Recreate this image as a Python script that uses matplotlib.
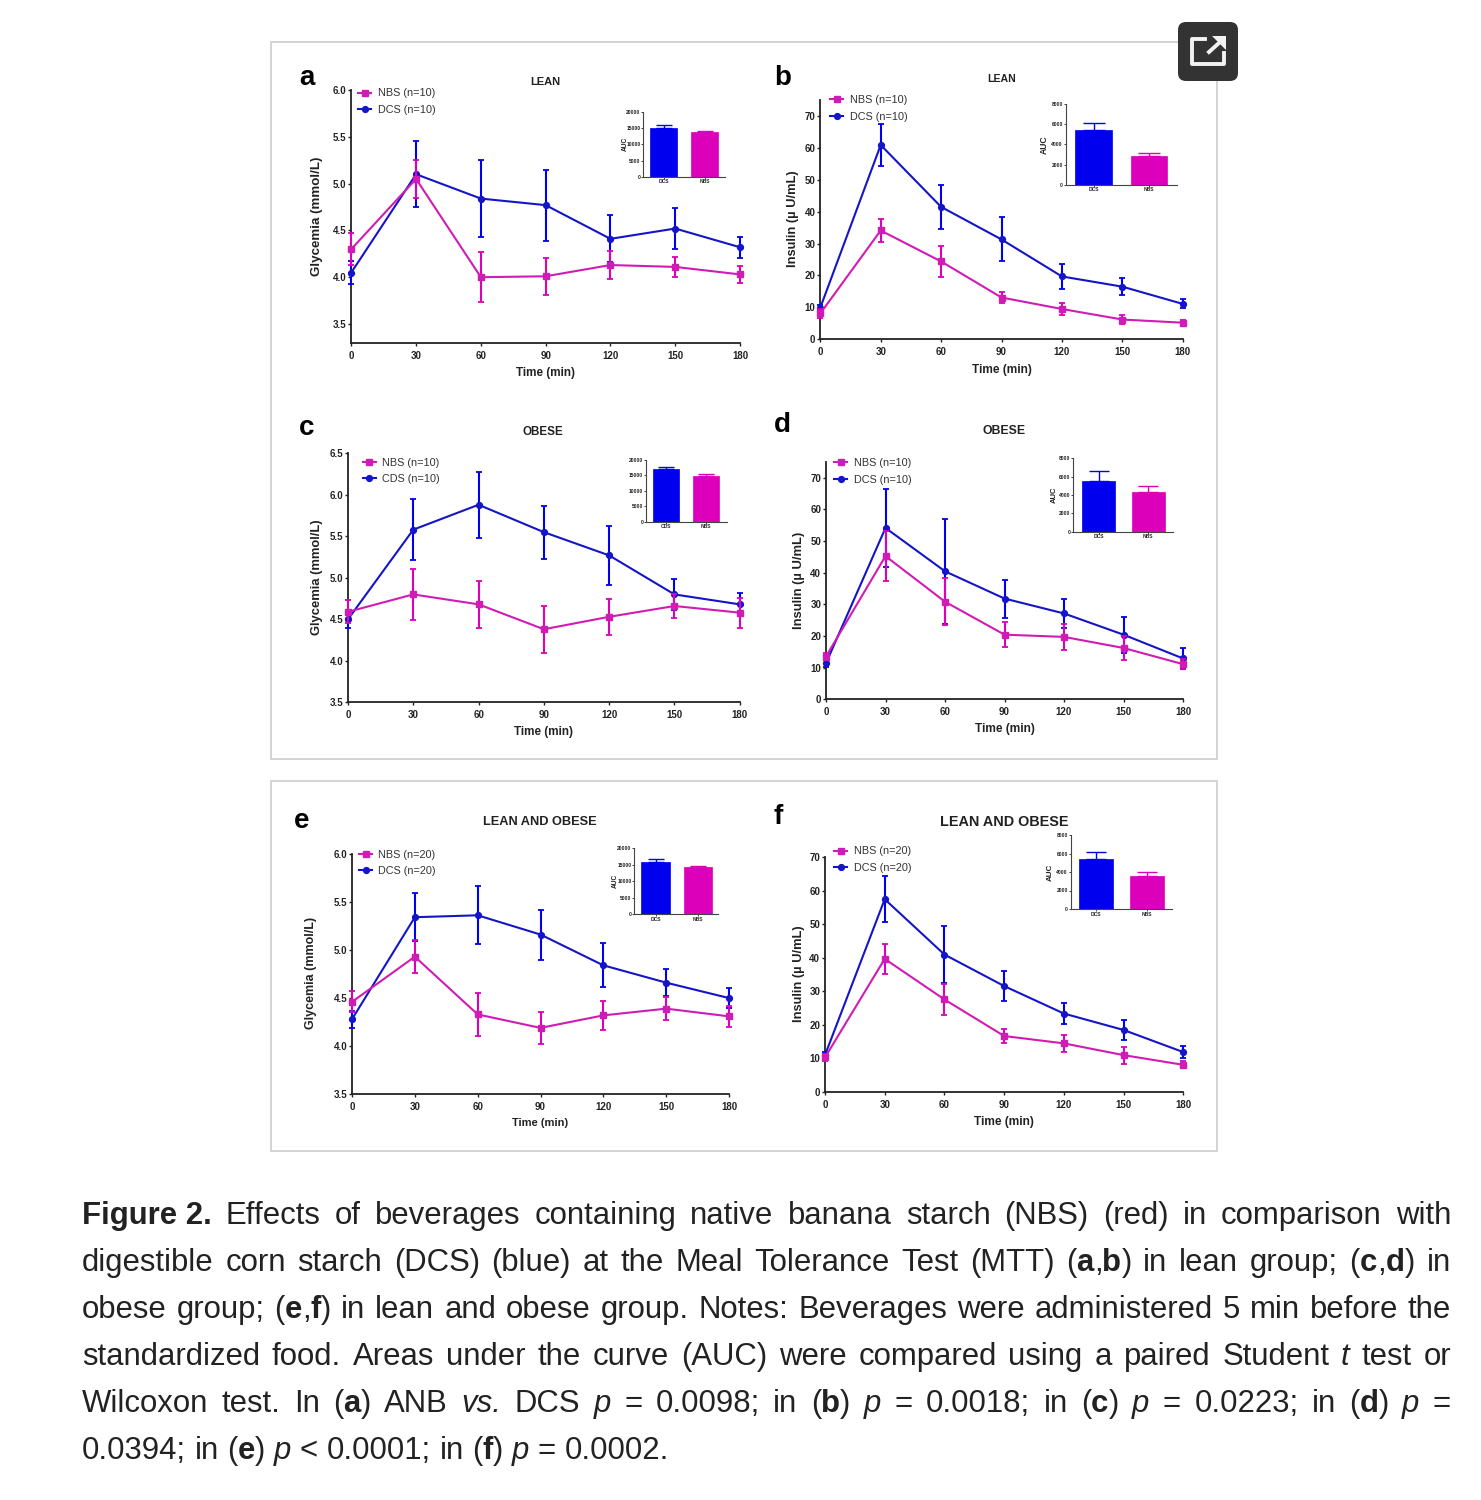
import re
import matplotlib
matplotlib.use('Agg')
import matplotlib.pyplot as plt
from matplotlib.lines import Line2D
from matplotlib.patches import FancyBboxPatch, Polygon, Rectangle
from matplotlib.transforms import Affine2D

W, H = 1481, 1500
PINK_LINE, BLUE_LINE = '#D01CB4', '#1414C8'
PINK_BAR, BLUE_BAR = '#DD00BB', '#0000EE'
INK = '#222222'

times = [0, 30, 60, 90, 120, 150, 180]

# glycemia / insulin means and error bars
a_nbs = [4.30, 5.05, 4.00, 4.01, 4.13, 4.11, 4.03]
a_nbs_err = [0.17, 0.20, 0.27, 0.20, 0.15, 0.11, 0.09]
a_dcs = [4.05, 5.10, 4.84, 4.77, 4.41, 4.52, 4.32]
a_dcs_err = [0.12, 0.35, 0.41, 0.38, 0.25, 0.22, 0.11]

b_nbs = [8.1, 34.1, 24.4, 13.1, 9.5, 6.2, 5.2]
b_nbs_err = [1.5, 3.6, 4.9, 1.7, 2.0, 1.3, 1.0]
b_dcs = [9.9, 60.9, 41.5, 31.3, 19.7, 16.5, 11.1]
b_dcs_err = [1.0, 6.7, 6.8, 6.9, 3.9, 2.6, 1.4]

c_nbs = [4.59, 4.80, 4.68, 4.38, 4.53, 4.66, 4.58]
c_nbs_err = [0.14, 0.31, 0.28, 0.28, 0.22, 0.14, 0.18]
c_dcs = [4.50, 5.58, 5.88, 5.55, 5.27, 4.80, 4.68]
c_dcs_err = [0.11, 0.37, 0.40, 0.32, 0.36, 0.19, 0.14]

d_nbs = [13.5, 45.2, 30.8, 20.4, 19.7, 16.2, 11.1]
d_nbs_err = [1.0, 7.8, 7.4, 3.9, 4.1, 3.8, 1.6]
d_dcs = [11.4, 54.1, 40.4, 31.8, 27.1, 20.4, 12.9]
d_dcs_err = [1.2, 12.4, 16.5, 6.0, 4.7, 5.7, 3.2]

e_nbs = [4.46, 4.93, 4.33, 4.19, 4.32, 4.39, 4.31]
e_nbs_err = [0.11, 0.17, 0.22, 0.17, 0.15, 0.12, 0.11]
e_dcs = [4.28, 5.34, 5.36, 5.16, 4.84, 4.66, 4.50]
e_dcs_err = [0.09, 0.25, 0.30, 0.26, 0.23, 0.14, 0.10]

f_nbs = [10.3, 39.7, 27.6, 16.7, 14.5, 11.0, 8.1]
f_nbs_err = [1.0, 4.5, 4.7, 2.2, 2.6, 2.5, 1.0]
f_dcs = [11.0, 57.5, 41.0, 31.6, 23.4, 18.5, 11.9]
f_dcs_err = [1.0, 6.9, 8.6, 4.5, 3.2, 3.1, 1.9]

# inset AUC bars: DCS, NBS
a_auc, a_auc_err = [15050, 13700], [850, 500]
b_auc, b_auc_err = [5390, 2810], [690, 365]
c_auc, c_auc_err = [16970, 14700], [870, 650]
d_auc, d_auc_err = [5560, 4290], [1050, 690]
e_auc, e_auc_err = [15960, 14340], [710, 410]
f_auc, f_auc_err = [5440, 3530], [685, 433]
auc_groups = ['DCS', 'NBS']

glyc_ticks = [3.5, 4.0, 4.5, 5.0, 5.5, 6.0]
glyc_ticks_c = [3.5, 4.0, 4.5, 5.0, 5.5, 6.0, 6.5]
ins_ticks = [0, 10, 20, 30, 40, 50, 60, 70]
auc_ticks_20k = [0, 5000, 10000, 15000, 20000]
auc_ticks_8k = [0, 2000, 4000, 6000, 8000]

caption = [
    '*Figure 2.* Effects of beverages containing native banana starch (NBS) (red) in comparison with',
    'digestible corn starch (DCS) (blue) at the Meal Tolerance Test (MTT) (*a*,*b*) in lean group; (*c*,*d*) in',
    'obese group; (*e*,*f*) in lean and obese group. Notes: Beverages were administered 5 min before the',
    'standardized food. Areas under the curve (AUC) were compared using a paired Student _t_ test or',
    'Wilcoxon test. In (*a*) ANB _vs._ DCS _p_ = 0.0098; in (*b*) _p_ = 0.0018; in (*c*) _p_ = 0.0223; in (*d*) _p_ =',
    '0.0394; in (*e*) _p_ < 0.0001; in (*f*) _p_ = 0.0002.',
]

plt.rcParams['font.family'] = ['Liberation Sans', 'DejaVu Sans']

fig = plt.figure(figsize=(W / 100, H / 100), dpi=100)
# y-down pixel coordinates of the reference image
px = Affine2D().scale(1, -1).translate(0, H)


def axes_at(left, right, top, bottom):
    return fig.add_axes([left / W, 1 - bottom / H, (right - left) / W, (bottom - top) / H])


def ftext(x, y, s, **kw):
    kw.setdefault('ha', 'center')
    kw.setdefault('va', 'center')
    kw.setdefault('color', INK)
    return fig.text(x, y, s, transform=px, **kw)


def panel(box, ylim, yticks, yfmt, nbs, nbs_err, dcs, dcs_err, ylabel, cds_label, n):
    ax = axes_at(*box)
    ax.patch.set_alpha(0)
    ax.errorbar(times, dcs, yerr=dcs_err, color=BLUE_LINE, ecolor=BLUE_BAR, lw=1.5, elinewidth=1.5,
                capsize=2.2, capthick=1.3, marker='o', ms=4.2, clip_on=False, zorder=3)
    ax.errorbar(times, nbs, yerr=nbs_err, color=PINK_LINE, ecolor=PINK_BAR, lw=1.5, elinewidth=1.5,
                capsize=2.2, capthick=1.3, marker='s', ms=4.4, clip_on=False, zorder=4)
    ax.set_xlim(0, 180)
    ax.set_ylim(*ylim)
    ax.set_xticks(times)
    ax.set_yticks(yticks)
    ax.set_yticklabels([yfmt % t for t in yticks])
    ax.tick_params(labelsize=7, width=1.0, length=2.5, color=INK, labelcolor=INK)
    ax.tick_params(axis='x', pad=3)
    ax.tick_params(axis='y', pad=1)
    for lab in ax.get_xticklabels() + ax.get_yticklabels():
        lab.set_fontweight('bold')
    ax.spines[['top', 'right']].set_visible(False)
    ax.spines[['left', 'bottom']].set_linewidth(1.3)
    ax.spines[['left', 'bottom']].set_color(INK)
    handles = [Line2D([], [], color=PINK_LINE, marker='s', ms=4.4, lw=1.5),
               Line2D([], [], color=BLUE_LINE, marker='o', ms=4.2, lw=1.5)]
    return ax, handles, ['NBS (n=%d)' % n, '%s (n=%d)' % (cds_label, n)], ylabel


def inset(box, xlim, auc, auc_err, ticks, ylab_x=None, ylab_size=5.0, labels=auc_groups):
    ax = axes_at(*box)
    colors = [BLUE_BAR, PINK_BAR]
    ax.bar([1, 2], auc, width=0.665, color=colors, edgecolor=colors, linewidth=0.5)
    for x, v, e, c in zip([1, 2], auc, auc_err, colors):
        ax.errorbar([x], [v], yerr=[[0], [e]], color=c, elinewidth=1.0, capsize=(box[1] - box[0]) / 14, capthick=1.0)
    ax.set_xlim(*xlim)
    ax.set_ylim(0, ticks[-1])
    ax.set_xticks([1, 2])
    ax.set_xticklabels(labels)
    ax.set_yticks(ticks)
    ax.tick_params(labelsize=3.6, width=0.6, length=1.2, pad=0.8, color=INK, labelcolor=INK)
    for lab in ax.get_xticklabels() + ax.get_yticklabels():
        lab.set_fontweight('bold')
    ax.spines[['top', 'right']].set_visible(False)
    ax.spines[['left', 'bottom']].set_linewidth(0.8)
    ax.spines[['left', 'bottom']].set_color('#444444')
    if ylab_x is not None:
        ftext(ylab_x, (box[2] + box[3]) / 2, 'AUC', fontsize=ylab_size, fontweight='bold', rotation=90)


# frames behind the six panels
for y0, y1 in [(42, 759), (781, 1151)]:
    fig.add_artist(Rectangle((271, y0), 946, y1 - y0, transform=px, fill=False, ec='#cccccc', lw=1.2))

panels = [
    dict(box=(351.3, 740, 90, 343.3), ylim=(3.294, 6.0), yticks=glyc_ticks, yfmt='%.1f', nbs=a_nbs, nbs_err=a_nbs_err,
         dcs=a_dcs, dcs_err=a_dcs_err, ylabel='Glycemia (mmol/L)', cds_label='DCS', n=10),
    dict(box=(820.3, 1182.7, 100, 339.3), ylim=(0, 75), yticks=ins_ticks, yfmt='%d', nbs=b_nbs, nbs_err=b_nbs_err,
         dcs=b_dcs, dcs_err=b_dcs_err, ylabel='Insulin (\u00b5 U/mL)', cds_label='DCS', n=10),
    dict(box=(348, 739.7, 453.3, 702.3), ylim=(3.5, 6.5), yticks=glyc_ticks_c, yfmt='%.1f', nbs=c_nbs, nbs_err=c_nbs_err,
         dcs=c_dcs, dcs_err=c_dcs_err, ylabel='Glycemia (mmol/L)', cds_label='CDS', n=10),
    dict(box=(826, 1183, 461.7, 699.3), ylim=(0, 75), yticks=ins_ticks, yfmt='%d', nbs=d_nbs, nbs_err=d_nbs_err,
         dcs=d_dcs, dcs_err=d_dcs_err, ylabel='Insulin (\u00b5 U/mL)', cds_label='DCS', n=10),
    dict(box=(352, 729, 853.7, 1094.3), ylim=(3.5, 6.0), yticks=glyc_ticks, yfmt='%.1f', nbs=e_nbs, nbs_err=e_nbs_err,
         dcs=e_dcs, dcs_err=e_dcs_err, ylabel='Glycemia (mmol/L)', cds_label='DCS', n=20),
    dict(box=(825, 1183.3, 857.3, 1092), ylim=(0, 70), yticks=ins_ticks, yfmt='%d', nbs=f_nbs, nbs_err=f_nbs_err,
         dcs=f_dcs, dcs_err=f_dcs_err, ylabel='Insulin (\u00b5 U/mL)', cds_label='DCS', n=20),
]
# letter x, y; title x, y, size; ylabel x, y, size; xlabel y, size; legend x, y
layout = [
    ('a', 307, 78, 'LEAN', 545, 82, 8.0, 316.7, 216, 9.6, 373, 8.4, 358, 93),
    ('b', 783, 78, 'LEAN', 1001.7, 79.3, 7.6, 793, 219, 9.3, 369.5, 8.6, 830, 99.5),
    ('c', 307, 428, 'OBESE', 543, 432, 8.4, 316.7, 577, 9.4, 731.5, 8.4, 362.7, 462),
    ('d', 782, 425, 'OBESE', 1004, 431, 8.8, 799, 580, 9.4, 729, 8.6, 834, 462.7),
    ('e', 302, 820.7, 'LEAN AND OBESE', 540, 821.7, 9.2, 310.7, 973, 9.0, 1123, 8.0, 359, 854),
    ('f', 778, 817, 'LEAN AND OBESE', 1004, 822, 10.4, 799, 974, 9.3, 1122, 8.6, 834, 851),
]
for cfg, (letter, lx, ly, title, tx, ty, tsize, yx, yy, ysize, xy, xsize, legx, legy) in zip(panels, layout):
    ax, handles, labels, ylabel = panel(**cfg)
    ftext(lx, ly, letter, fontsize=20, fontweight='bold', color='black')
    ftext(tx, ty, title, fontsize=tsize, fontweight='bold')
    ftext(yx, yy, ylabel, fontsize=ysize, fontweight='bold', rotation=90)
    ftext((cfg['box'][0] + cfg['box'][1]) / 2, xy, 'Time (min)', fontsize=xsize, fontweight='bold')
    ax.legend(handles, labels, loc='upper left', bbox_to_anchor=(legx, legy - 4.5), bbox_transform=px,
              frameon=False, fontsize=7.8, borderpad=0, borderaxespad=0, handlelength=1.2,
              handletextpad=0.6, labelspacing=0.62, labelcolor='#333333')

inset((643.3, 725, 112, 176.7), (0.504, 2.496), a_auc, a_auc_err, auc_ticks_20k, 625, 4.8)
inset((1065.7, 1176.7, 104, 184.7), (0.494, 2.5), b_auc, b_auc_err, auc_ticks_8k, 1044.5, 6.2)
inset((646, 726.7, 460, 521.7), (0.5, 2.517), c_auc, c_auc_err, auc_ticks_20k, labels=['CDS', 'NBS'])
inset((1073.3, 1173.3, 458.3, 531.7), (0.49, 2.503), d_auc, d_auc_err, auc_ticks_8k, 1054, 5.5)
inset((634.3, 718.3, 848.3, 914.3), (0.5, 2.48), e_auc, e_auc_err, auc_ticks_20k, 615.5, 4.8)
inset((1070.7, 1172.3, 835, 909), (0.5, 2.5), f_auc, f_auc_err, auc_ticks_8k, 1050.5, 5.8)

# popup button, top right of the first frame
fig.add_artist(FancyBboxPatch((1185, 29), 46, 45, boxstyle='round,pad=7,rounding_size=8', transform=px,
                              fc='#333333', ec='none', zorder=5))
for xs, ys in [((1205, 1192, 1192, 1224, 1224), (38.5, 38.5, 64, 64, 53)),
               ((1209, 1219), (52, 43))]:
    fig.add_artist(Line2D(xs, ys, transform=px, color='#f2f2f2', lw=2.8, zorder=6))
fig.add_artist(Polygon([(1212, 36), (1226, 36), (1226, 50)], closed=True, transform=px, fc='#f2f2f2', ec='none', zorder=6))

# justified caption, set word by word
FS = 22.4
LEFT, RIGHT = 82, 1451
renderer = fig.canvas.get_renderer()
baselines = [1224, 1271, 1318, 1365, 1412, 1459]


def word_runs(word):
    runs = []
    for part in re.findall(r'\*[^*]+\*|_[^_]+_|[^*_]+', word):
        if part[0] == '*':
            runs.append((part[1:-1], dict(fontweight='bold')))
        elif part[0] == '_':
            runs.append((part[1:-1], dict(fontstyle='italic')))
        else:
            runs.append((part, {}))
    return runs


def set_line(line, y, justify):
    # "*Figure 2.*" holds a space inside the markers, so split outside them only
    words = re.findall(r'(?:\*[^*]+\*|_[^_]+_|[^\s*_])+', line)
    placed = []
    total = 0
    for w in words:
        arts = []
        width = 0
        for s, kw in word_runs(w):
            t = ftext(0, y, s, fontsize=FS, ha='left', va='baseline', **kw)
            adv = t.get_window_extent(renderer).width
            arts.append((t, width))
            width += adv
        placed.append((arts, width))
        total += width
    gap = (RIGHT - LEFT - total) / (len(words) - 1) if justify else FS * 100 / 72 * 0.278
    x = LEFT
    for arts, width in placed:
        for t, off in arts:
            t.set_position((x + off, y))
        x += width + gap


for i, (line, y) in enumerate(zip(caption, baselines)):
    set_line(line, y, i < len(caption) - 1)

fig.savefig('out.png', dpi=100)
